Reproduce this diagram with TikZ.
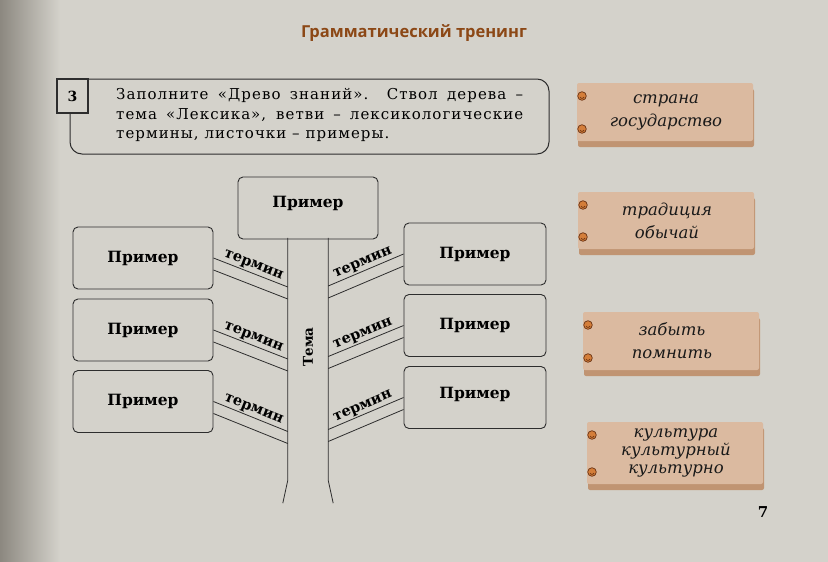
\documentclass[tikz,border=0pt]{standalone}
\usepackage{fontspec}
\setmainfont{DejaVu Serif}
\newfontfamily\headfont{Open Sans}
\newfontfamily\taskfont[LetterSpace=7]{DejaVu Serif}
\usetikzlibrary{calc}

\definecolor{paper}{RGB}{212,210,203}
\definecolor{binding}{RGB}{140,136,128}
\definecolor{ink}{RGB}{45,45,45}
\definecolor{headbrown}{RGB}{140,72,22}
\definecolor{tagcol}{RGB}{219,186,160}
\definecolor{tagshade}{RGB}{192,148,114}
\definecolor{ringcol}{RGB}{212,126,58}
\definecolor{ringdark}{RGB}{105,50,18}

\tikzset{
    primerbox/.style={draw=ink, line width=0.9pt, rounded corners=5pt, minimum width=140pt, minimum height=62pt, font=\fontsize{15.5}{18}\selectfont\bfseries},
    termin/.style={font=\fontsize{14.5}{16}\selectfont\bfseries, inner sep=1.5pt},
    tagtext/.style={font=\fontsize{16.5}{23}\selectfont\itshape, align=center, text=black!90},
    tasktext/.style={font=\fontsize{15}{17}\selectfont\taskfont, inner sep=0pt, anchor=base west},
    branchline/.style={draw=ink, line width=0.8pt},
}

\newcommand{\drawring}[2]{
    \fill[ringcol] (#1,#2) circle (4.3pt);
    \draw[ringdark, line width=0.7pt] (#1,#2) circle (4.3pt);
    \draw[ringdark, line width=0.6pt] (#1-2,#2+1) arc (200:340:2.2pt);
}
\newcommand{\drawtag}[5]{
    % #1 name, #2 left, #3 top, #4 height, #5 words
    \pgfmathsetmacro \tagr {#2+176}
    \pgfmathsetmacro \tagb {#3+#4}
    \pgfmathsetmacro \tagx {#2+89}
    \pgfmathsetmacro \tagy {#3+#4/2}
    \fill[tagshade, rounded corners=2pt] (#2+1,#3+6) rectangle (\tagr+1,\tagb+6); % lower sheet
    \fill[tagcol, rounded corners=2pt] (#2,#3) rectangle (\tagr,\tagb); % front sheet
    \node[tagtext] (#1) at (\tagx,\tagy) {#5};
    \drawring{#2+5}{#3+13}
    \drawring{#2+5}{\tagb-12}
}
% a branch = two lines between a box and the trunk
\newcommand{\drawbranch}[3]{
    \draw[branchline] (#1) -- ($(#1 -| #2)+(0,#3)$) node[termin, midway, above, sloped] {термин};
    \draw[branchline] ($(#1)+(0,12)$) -- ($(#1 -| #2)+(0,#3+12)$);
}
\newcommand{\drawbranchright}[3]{
    \draw[branchline] ($(#1 -| #2)+(0,#3)$) -- (#1) node[termin, midway, above, sloped] {термин};
    \draw[branchline] ($(#1 -| #2)+(0,#3+12)$) -- ($(#1)+(0,12)$);
}

\begin{document}
\begin{tikzpicture}[x=1pt, y=-1pt]
    \useasboundingbox (0,0) rectangle (828,562);
    \fill[paper] (0,0) rectangle (828,562);
    \shade[left color=binding, right color=paper] (0,0) rectangle (60,562);

    \node[font=\fontsize{16.5}{18}\selectfont\headfont\bfseries, text=headbrown] (head) at (414,33) {Грамматический тренинг};

    % task
    \draw[ink, line width=1pt, rounded corners=12pt] (88,79) -- (549,79) -- (549,154) -- (70,154) -- (70,113);
    \node[draw=ink, line width=1.3pt, fill=paper, minimum width=31pt, minimum height=34pt, inner sep=0pt, font=\fontsize{14}{16}\selectfont\bfseries] (num) at (72.5,96) {3};
    \node[tasktext] (task1) at (116,99) {\makebox[407pt][s]{Заполните «Древо знаний». Ствол дерева –}};
    \node[tasktext] (task2) at (116,119) {\makebox[407pt][s]{тема «Лексика», ветви – лексикологические}};
    \node[tasktext] (task3) at (116,138) {термины, листочки – примеры.};

    % tree
    \node[primerbox] (top) at (308,208) {\raisebox{5pt}[\height][\depth]{Пример}};
    \node[minimum width=40pt, minimum height=242pt, inner sep=0pt] (trunk) at (308,359) {};
    \draw[branchline] (trunk.north west) -- (trunk.south west) -- ++(-5,23);
    \draw[branchline] (trunk.north east) -- (trunk.south east) -- ++(5,23);
    \node[rotate=90, font=\fontsize{13.5}{16}\selectfont\bfseries] (tema) at (308,347) {Тема};

    \node[primerbox] (l1) at (143,258) {Пример};
    \node[primerbox] (l2) at (143,330) {Пример};
    \node[primerbox] (l3) at (143,401.5) {Пример};

    \node[primerbox, minimum width=142pt] (r1) at (475,254) {Пример};
    \node[primerbox, minimum width=142pt] (r2) at (475,325.5) {Пример};
    \node[primerbox, minimum width=142pt] (r3) at (475,397.5) {\raisebox{3pt}[\height][\depth]{Пример}};

    \drawbranch{l1.east}{trunk.west}{29}
    \drawbranch{l2.east}{trunk.west}{29}
    \drawbranch{l3.east}{trunk.west}{30}

    \drawbranchright{r1.west}{trunk.east}{32}
    \drawbranchright{r2.west}{trunk.east}{31}
    \drawbranchright{r3.west}{trunk.east}{32}

    % tags
    \drawtag{tag1}{577}{83}{58}{страна\\государство}
    \drawtag{tag2}{578}{192}{57}{традиция\\обычай}
    \drawtag{tag3}{583}{312}{58}{забыть\\помнить}
    \drawtag{tag4}{587}{422}{62}{культура\\[-5pt]культурный\\[-5pt]культурно}

    \node[font=\fontsize{15}{16}\selectfont\bfseries] (pagenum) at (763,512) {7};
\end{tikzpicture}
\end{document}
